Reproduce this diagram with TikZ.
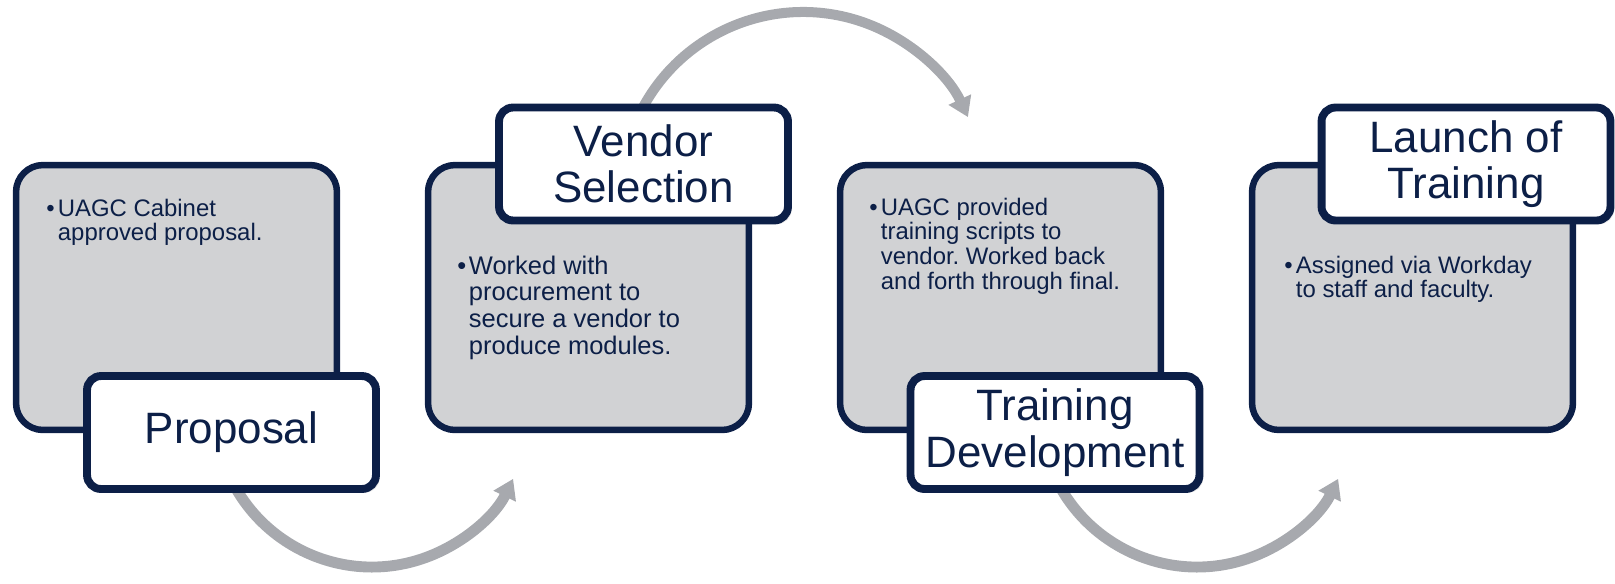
\documentclass[tikz,border=0pt]{standalone}
\usepackage{fontspec}
\setmainfont{Liberation Sans}
\usetikzlibrary{arrows.meta, shadows}
\definecolor{navy}{RGB}{12,31,71}
\definecolor{boxgray}{RGB}{209,210,212}
\definecolor{arcgray}{RGB}{167,169,174}
\frenchspacing
\newcommand{\stepitem}[1]{\begin{tabular}[t]{@{}p{6.6pt}@{}l@{}}\textbullet & #1\end{tabular}}
\tikzset{
    panel/.style={draw=navy, fill=boxgray, line width=3.7pt, rounded corners=0.54cm,
        minimum width=6.42cm, minimum height=5.30cm, inner sep=0pt},
    tag/.style={draw=navy, fill=white, line width=4.5pt, rounded corners=0.28cm,
        minimum width=5.78cm, minimum height=2.26cm, inner sep=0pt, align=center,
        text=navy, font=\fontsize{25}{26.5}\selectfont,
        drop shadow={shadow xshift=2pt, shadow yshift=-2pt, opacity=0.2}},
    itemtext/.style={anchor=base west, inner sep=0pt, text=navy,
        font=\fontsize{13.6}{14.2}\selectfont},
    flow/.style={draw=arcgray, line width=6.2pt, -{Triangle[width=13.5pt, length=11pt]}}
}
\begin{document}
\begin{tikzpicture}[x=0.02cm, y=0.02cm]
        \useasboundingbox (0,0) rectangle (1615,-583);

            \coordinate (c1) at (372,-410);
            \coordinate (c2) at (803,-194);
            \coordinate (c3) at (1197,-410);

            \draw[flow] (c1) ++(200:157) arc[start angle=200, end angle=334, radius=157];
            \draw[flow, line width=5.7pt] (c2) ++(156:182) arc[start angle=156, end angle=25, radius=182];
            \draw[flow] (c3) ++(200:157) arc[start angle=200, end angle=334, radius=157];

            \node[panel] (p1) at (176.5,-297.5) {};
            \node[panel] (p2) at (588.5,-297.5) {};
            \node[panel] (p3) at (1000.5,-297.5) {};
            \node[panel] (p4) at (1412.5,-297.5) {};

            \node[itemtext] (t1) at (46,-216) {\stepitem{UAGC Cabinet\\&approved proposal.}};
            \node[itemtext, font=\fontsize{14.5}{15.3}\selectfont] (t2) at (457,-274)
                {\stepitem{Worked with\\&procurement to\\&secure a vendor to\\&produce modules.}};
            \node[itemtext] (t3) at (869,-215)
                {\stepitem{UAGC provided\\&training scripts to\\&vendor. Worked back\\&and forth through final.}};
            \node[itemtext] (t4) at (1284,-273) {\stepitem{Assigned via Workday\\&to staff and faculty.}};

            \node[tag] (l1) at (231.5,-432.5) {Proposal};
            \node[tag] (l2) at (643.5,-164) {Vendor\\Selection};
            \node[tag] (l3) at (1055,-432.5) {Training\\Development};
            \node[tag] (l4) at (1466,-164) {Launch of\\Training};

        \end{tikzpicture}
\end{document}
